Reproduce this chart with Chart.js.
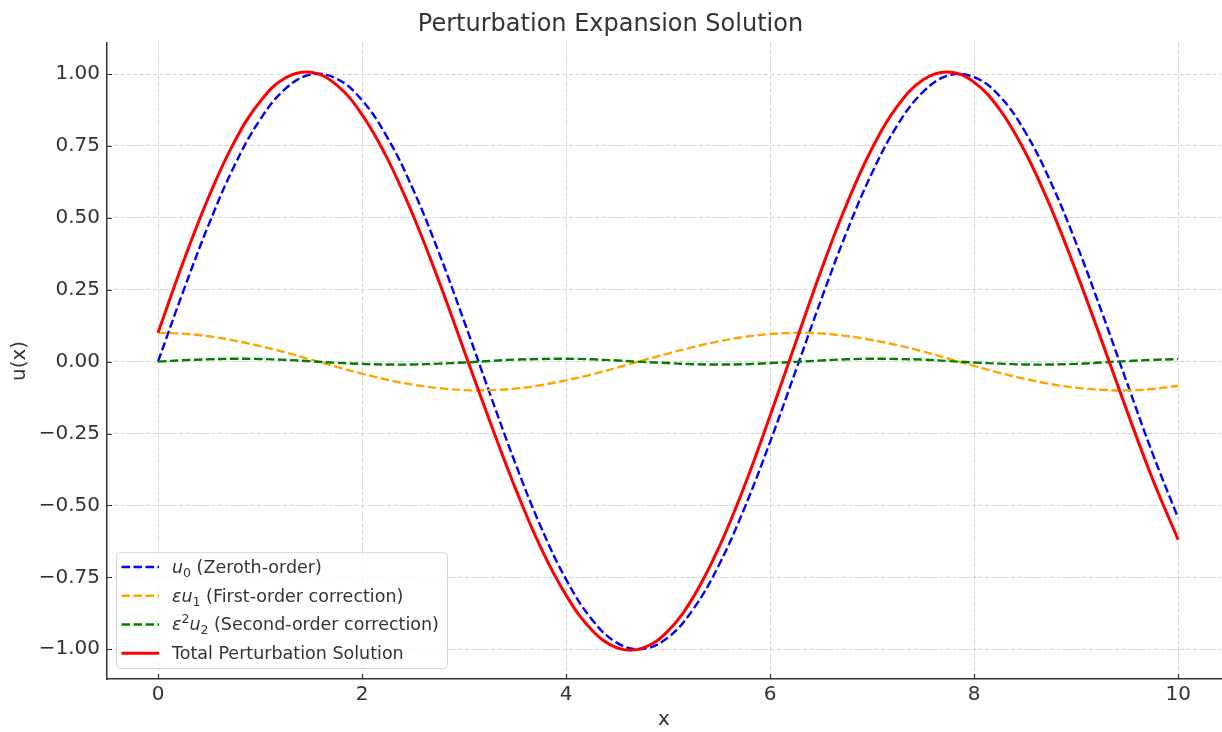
<!DOCTYPE html>
<html>
<head>
<meta charset="utf-8">
<script src="https://cdn.jsdelivr.net/npm/chart.js@4/dist/chart.umd.min.js"></script>
<style>
  html, body { margin: 0; padding: 0; background: #fff; }
  #wrap { width: 1222px; height: 732px; }
</style>
</head>
<body>
<div id="wrap"><canvas id="myChart" width="1222" height="732"></canvas></div>
<script>
// x samples (step 0.25)
const xValues = [0, 0.25, 0.5, 0.75, 1, 1.25, 1.5, 1.75, 2, 2.25, 2.5, 2.75, 3, 3.25, 3.5, 3.75, 4, 4.25, 4.5, 4.75,
  5, 5.25, 5.5, 5.75, 6, 6.25, 6.5, 6.75, 7, 7.25, 7.5, 7.75, 8, 8.25, 8.5, 8.75, 9, 9.25, 9.5, 9.75, 10];

const zerothOrder = [0, 0.247, 0.479, 0.682, 0.841, 0.949, 0.998, 0.984, 0.909, 0.778, 0.599, 0.382, 0.141, -0.108,
  -0.351, -0.572, -0.757, -0.895, -0.978, -0.999, -0.959, -0.859, -0.706, -0.508, -0.279, -0.033, 0.215, 0.450,
  0.657, 0.823, 0.938, 0.995, 0.989, 0.923, 0.799, 0.625, 0.412, 0.174, -0.075, -0.320, -0.544];

const firstOrder = [0.100, 0.097, 0.088, 0.073, 0.054, 0.032, 0.007, -0.018, -0.042, -0.063, -0.080, -0.092, -0.099,
  -0.099, -0.094, -0.082, -0.065, -0.045, -0.021, 0.004, 0.028, 0.051, 0.071, 0.086, 0.096, 0.100, 0.098, 0.089,
  0.075, 0.057, 0.035, 0.010, -0.015, -0.039, -0.060, -0.078, -0.091, -0.098, -0.100, -0.095, -0.084];

const secondOrder = [0, 0.005, 0.008, 0.010, 0.009, 0.006, 0.001, -0.004, -0.008, -0.010, -0.010, -0.007, -0.003,
  0.002, 0.007, 0.009, 0.010, 0.008, 0.004, -0.001, -0.005, -0.009, -0.010, -0.009, -0.005, -0.001, 0.004, 0.008,
  0.010, 0.009, 0.007, 0.002, -0.003, -0.007, -0.010, -0.010, -0.008, -0.003, 0.002, 0.006, 0.009];

const totalSolution = [0.100, 0.349, 0.575, 0.765, 0.904, 0.987, 1.006, 0.962, 0.859, 0.705, 0.509, 0.283, 0.039,
  -0.205, -0.438, -0.645, -0.812, -0.932, -0.995, -0.996, -0.936, -0.817, -0.645, -0.431, -0.188, 0.066, 0.317,
  0.547, 0.742, 0.889, 0.980, 1.007, 0.971, 0.877, 0.729, 0.537, 0.313, 0.073, -0.173, -0.409, -0.619];

const xTickValues = [0, 2, 4, 6, 8, 10];
const yTickValues = [-1, -0.75, -0.5, -0.25, 0, 0.25, 0.5, 0.75, 1];

// legend labels, split into pieces: [text, style]
const legendLabels = [
  [['u', 'i'], ['0', 'sub'], [' (Zeroth-order)', '']],
  [['\u03b5u', 'i'], ['1', 'sub'], [' (First-order correction)', '']],
  [['\u03b5', 'i'], ['2', 'sup'], ['u', 'i'], ['2', 'sub'], [' (Second-order correction)', '']],
  [['Total Perturbation Solution', '']]
];

const FONT = '"DejaVu Sans", sans-serif';
const TEXT = '#333333';

const toPoints = ys => ys.map((y, i) => ({ x: xValues[i], y: y }));

const lineStyles = [
  { color: '#0000ff', width: 2.4, dash: [8.5, 3.5], order: 4 },
  { color: '#ffa500', width: 2.4, dash: [8.5, 3.5], order: 3 },
  { color: '#008000', width: 2.4, dash: [8.5, 3.5], order: 2 },
  { color: '#ff0000', width: 3, dash: [], order: 1 }
];

const seriesList = [zerothOrder, firstOrder, secondOrder, totalSolution];

const datasets = seriesList.map((ys, i) => ({
  data: toPoints(ys),
  borderColor: lineStyles[i].color,
  borderWidth: lineStyles[i].width,
  borderDash: lineStyles[i].dash,
  order: lineStyles[i].order,
  pointRadius: 0,
  fill: false,
  tension: 0.4
}));

function drawRich(ctx, parts, x, y) {
  parts.forEach(([t, kind]) => {
    let size = 17.5, dy = 0, style = '';
    if (kind === 'i') style = 'italic ';
    if (kind === 'sub') { size = 12.5; dy = 4; }
    if (kind === 'sup') { size = 12.5; dy = -7; }
    ctx.font = style + size + 'px ' + FONT;
    ctx.fillText(t, x, y + dy);
    x += ctx.measureText(t).width;
  });
}

const extras = {
  id: 'extras',
  afterDraw(chart) {
    const ctx = chart.ctx;
    const a = chart.chartArea;
    const xs = chart.scales.x, ys = chart.scales.y;

    // inward tick marks
    ctx.save();
    ctx.strokeStyle = TEXT;
    ctx.lineWidth = 1.2;
    ctx.beginPath();
    xTickValues.forEach(v => {
      const px = Math.round(xs.getPixelForValue(v)) + 0.5;
      ctx.moveTo(px, a.bottom); ctx.lineTo(px, a.bottom - 5);
    });
    yTickValues.forEach(v => {
      const py = Math.round(ys.getPixelForValue(v)) + 0.5;
      ctx.moveTo(a.left, py); ctx.lineTo(a.left + 5, py);
    });
    ctx.stroke();

    // legend box
    const rowH = 28.7;
    const boxL = a.left + 9;
    const boxB = a.bottom - 11;
    const boxH = legendLabels.length * rowH + 1;
    const boxT = boxB - boxH;
    const boxW = 331;
    ctx.beginPath();
    ctx.roundRect(boxL + 0.5, boxT + 0.5, boxW, boxH, 4);
    ctx.fillStyle = 'rgba(255,255,255,0.8)';
    ctx.fill();
    ctx.strokeStyle = 'rgba(204,204,204,0.8)';
    ctx.lineWidth = 1;
    ctx.stroke();

    legendLabels.forEach((parts, i) => {
      const cy = boxT + 0.5 + rowH * (i + 0.5);
      const st = lineStyles[i];
      ctx.beginPath();
      ctx.setLineDash(st.dash);
      ctx.strokeStyle = st.color;
      ctx.lineWidth = st.width;
      ctx.moveTo(boxL + 5.5, cy);
      ctx.lineTo(boxL + 43, cy);
      ctx.stroke();
      ctx.setLineDash([]);
      ctx.fillStyle = TEXT;
      ctx.textBaseline = 'alphabetic';
      ctx.textAlign = 'left';
      drawRich(ctx, parts, boxL + 56, cy + 6);
    });
    ctx.restore();
  }
};

Chart.defaults.font.family = FONT;
Chart.defaults.color = TEXT;

const gridStyle = {
  color: 'rgba(200,200,200,0.8)',
  lineWidth: 1,
  drawTicks: false
};

const config = {
  type: 'line',
  data: { datasets: datasets },
  plugins: [extras],
  options: {
    responsive: false,
    animation: false,
    layout: { padding: { right: 1 } },
    plugins: {
      legend: { display: false },
      tooltip: { enabled: false },
      title: {
        display: true,
        text: 'Perturbation Expansion Solution',
        color: TEXT,
        font: { size: 24, weight: 'normal' },
        padding: { top: 10, bottom: 4 }
      }
    },
    scales: {
      x: {
        type: 'linear',
        min: -0.5,
        max: 10.42,
        bounds: 'data',
        afterBuildTicks: s => { s.ticks = xTickValues.map(v => ({ value: v })); },
        afterFit: s => { s.height = 53; },
        grid: gridStyle,
        border: { display: true, color: TEXT, width: 1.5, dash: [4, 2.5] },
        ticks: { color: TEXT, font: { size: 20 }, padding: 4, maxRotation: 0, callback: v => String(v) },
        title: { display: true, text: 'x', color: TEXT, font: { size: 20 }, padding: 0 }
      },
      y: {
        type: 'linear',
        min: -1.1035,
        max: 1.1085,
        bounds: 'data',
        afterBuildTicks: s => { s.ticks = yTickValues.map(v => ({ value: v })); },
        afterFit: s => { s.width = 107; },
        grid: gridStyle,
        border: { display: true, color: TEXT, width: 1.5, dash: [4, 2.5] },
        ticks: {
          color: TEXT, font: { size: 20 }, padding: 7,
          callback: v => (v < 0 ? '\u2212' : '') + Math.abs(v).toFixed(2)
        },
        title: { display: true, text: 'u(x)', color: TEXT, font: { size: 20 }, padding: { top: 8, bottom: 0 } }
      }
    }
  }
};

const myChart = new Chart(document.getElementById('myChart'), config);
</script>
</body>
</html>
